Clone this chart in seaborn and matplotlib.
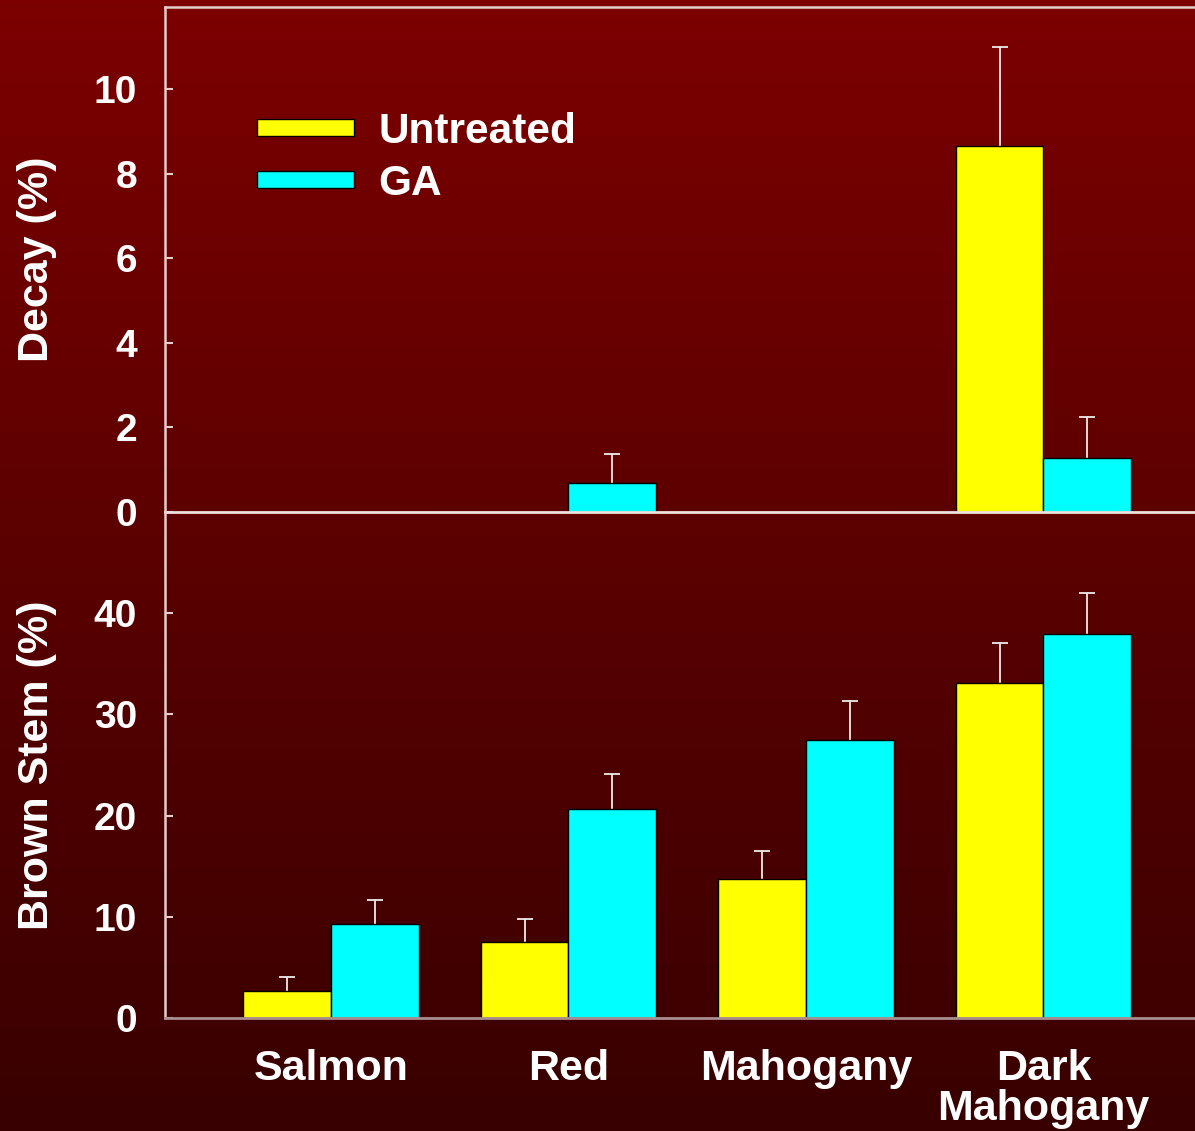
import numpy as np
import pandas as pd
import matplotlib
matplotlib.use('Agg')
import matplotlib.pyplot as plt
import seaborn as sns

# data
colours_cat = ['Salmon', 'Red', 'Mahogany', 'Dark\nMahogany']
treatments = ['Untreated', 'GA']

decay_untreated = [0.0, 0.0, 0.0, 8.67]
decay_ga = [0.0, 0.69, 0.0, 1.28]
decay_err_untreated = [np.nan, np.nan, np.nan, 2.33]
decay_err_ga = [np.nan, 0.68, np.nan, 0.97]

brown_untreated = [2.7, 7.5, 13.7, 33.1]
brown_ga = [9.3, 20.7, 27.5, 37.9]
brown_err_untreated = [1.4, 2.3, 2.8, 4.0]
brown_err_ga = [2.4, 3.4, 3.8, 4.1]

decay_ticks = [0, 2, 4, 6, 8, 10]
brown_ticks = [0, 10, 20, 30, 40]

palette = {'Untreated': '#ffff00', 'GA': '#00ffff'}


def make_frame(untreated, ga):
    return pd.DataFrame({
        'colour': colours_cat * 2,
        'treatment': ['Untreated'] * 4 + ['GA'] * 4,
        'value': list(untreated) + list(ga),
    })


sns.set_theme(style='ticks')
plt.rcParams['font.family'] = ['Liberation Sans', 'DejaVu Sans']
plt.rcParams['font.weight'] = 'bold'

fig = plt.figure(figsize=(11.95, 11.31), dpi=100)

# gradient background
bg = fig.add_axes([0, 0, 1, 1], zorder=-10)
grad = np.linspace(0, 1, 256).reshape(-1, 1)
cmap = matplotlib.colors.LinearSegmentedColormap.from_list('bg', ['#7c0000', '#380000'])
bg.imshow(grad, aspect='auto', cmap=cmap, extent=[0, 1, 0, 1], origin='upper')
bg.set_axis_off()

ax_top = fig.add_axes([0.138, 0.5473, 0.862, 0.4465])
ax_bot = fig.add_axes([0.138, 0.0999, 0.862, 0.4474])

line_col = '#e6cccc'
bot_col = '#a88e8e'
lab_size = 31

panels = [
    (ax_top, make_frame(decay_untreated, decay_ga), [decay_err_untreated, decay_err_ga],
     (0, 11.95), decay_ticks, 'Decay (%)'),
    (ax_bot, make_frame(brown_untreated, brown_ga), [brown_err_untreated, brown_err_ga],
     (0, 50), brown_ticks, 'Brown Stem (%)'),
]

for ax, df, errs, ylim, ticks, ylabel in panels:
    ax.set_facecolor('none')
    sns.barplot(data=df, x='colour', y='value', hue='treatment', order=colours_cat,
                hue_order=treatments, palette=palette, width=0.74, saturation=1,
                edgecolor='black', linewidth=1, errorbar=None, ax=ax,
                legend=(ax is ax_top))
    # upper-only error bars with a single cap on top
    for cont, err in zip(ax.containers, errs):
        xs = [p.get_x() + p.get_width() / 2 for p in cont.patches]
        hs = [p.get_height() for p in cont.patches]
        err = np.array(err, dtype=float)
        eb = ax.errorbar(xs, hs, yerr=[np.zeros_like(err), err], fmt='none',
                         ecolor='#f0eaea', elinewidth=1.3, capsize=6, capthick=1.3, zorder=0.5)
        eb[1][0].set_visible(False)
    ax.set_xlim(-0.699, 3.638)
    ax.set_ylim(*ylim)
    ax.set_yticks(ticks)
    ax.set_ylabel(ylabel, fontsize=lab_size, fontweight='bold', color='white')
    ax.set_xlabel('')
    ax.tick_params(axis='y', direction='in', length=6, width=1.5, colors=line_col,
                   labelcolor='white', labelsize=28, pad=20)
    ax.tick_params(axis='x', length=0)
    ax.spines['right'].set_visible(False)
    ax.spines['left'].set_color(line_col)
    ax.spines['left'].set_linewidth(1.8)
    ax.yaxis.set_label_coords(-0.105, 0.5)

ax_top.spines['top'].set_color(line_col)
ax_top.spines['top'].set_linewidth(1.8)
ax_top.spines['bottom'].set_color('#f0e0e0')
ax_top.spines['bottom'].set_linewidth(2)
ax_top.spines['bottom'].set_zorder(3)
ax_top.set_xticklabels([])

ax_bot.spines['top'].set_visible(False)
ax_bot.spines['bottom'].set_color(bot_col)
ax_bot.spines['bottom'].set_linewidth(2)
ax_bot.set_xticks(range(len(colours_cat)))
ax_bot.set_xticklabels(colours_cat, fontsize=lab_size, fontweight='bold', color='white',
                       linespacing=1.0, va='top')
ax_bot.tick_params(axis='x', pad=22)

sns.move_legend(ax_top, 'upper left', bbox_to_anchor=(0.0896, 0.792), frameon=False,
                title=None, fontsize=30.5, labelcolor='white', handlelength=2.28,
                handleheight=0.22, handletextpad=0.58, labelspacing=0.28,
                borderpad=0, borderaxespad=0)
for t in ax_top.get_legend().get_texts():
    t.set_fontweight('bold')

fig.savefig('out.png', dpi=100)
